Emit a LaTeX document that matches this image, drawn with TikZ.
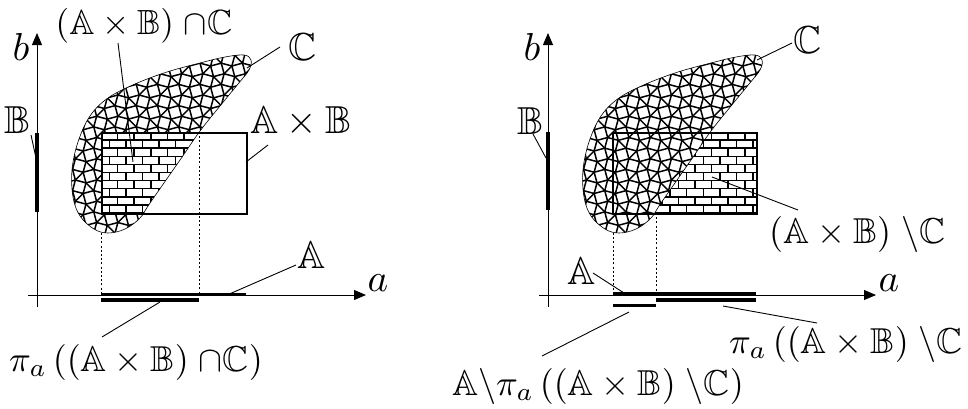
\documentclass[tikz,border=0pt]{standalone}
\usepackage{amssymb}
\usetikzlibrary{arrows.meta}
\newcommand\snubgrid{%
  \foreach \i in {0,...,10}{\foreach \j in {0,...,10}{%
    \begin{scope}[shift={(58+\i*21.25,38+\j*21.25)}, scale=1.1]
      \draw[pat] (3.536,6.124)--(-6.124,3.536)--(-3.536,-6.124)--(6.124,-3.536)--cycle;
      \draw[pat] (15.783,13.195)--(6.123,15.783)--(3.535,6.123)--(13.195,3.535)--cycle;
      \draw[pat] (6.124,-3.536)--(13.195,3.536);
      \draw[pat] (3.536,6.124)--(-3.536,13.195);
    \end{scope}}}}
\newcommand\brickfill[4]{%
  \foreach \k in {0,...,10}{%
    \draw[brickline] (#1,#2+\k*8.1) -- (#3,#2+\k*8.1);
    \pgfmathsetmacro\off{mod(\k,2)*8.3}
    \foreach \m in {-1,...,9}{%
      \draw[brickline] (#1+\off+\m*16.6,#2+\k*8.1) -- ++(0,8.1);
    }}}
\begin{document}
\begin{tikzpicture}[x=1pt,y=-1pt,
  lbl/.style={inner sep=0pt, scale=3.6},
  letter/.style={inner sep=0pt, scale=3.9},
  axlbl/.style={inner sep=0pt, scale=3.9},
  axis/.style={line width=0.9pt, -{Triangle[length=12pt,width=10pt]}},
  thickseg/.style={line width=3.8pt},
  leader/.style={line width=0.9pt},
  proj/.style={line width=0.8pt, dash pattern=on 2pt off 2.2pt},
  rectbox/.style={line width=1.8pt},
  blobline/.style={line width=0.6pt},
  pat/.style={line width=1.5pt, line join=round},
  brickline/.style={line width=1.5pt}]
\useasboundingbox (0,0) rectangle (968,408);
\def\blobpath{plot[smooth cycle, tension=0.6] coordinates {(251,60) (249,70) (238,84) (220,106) (200,131) (180,160) (150,203) (140,218) (125,229) (108,233) (94,229) (80,216) (73,197) (72,170) (78,142) (90,116) (108,98) (135,84) (167,72) (200,63) (225,57) (244,55)}}

% ================= LEFT DIAGRAM =================
\begin{scope}
  \clip \blobpath;
  \clip (-100,-100)--(-100,600)--(1100,600)--(1100,-100)--cycle
        (101,132)--(246,132)--(246,213)--(101,213)--cycle;
  \snubgrid
\end{scope}
\begin{scope}
  \clip \blobpath;
  \clip (101,132) rectangle (246,213);
  \brickfill{101}{132}{246}{213}
\end{scope}
\draw[blobline] \blobpath;
\node[draw, rectbox, minimum width=145pt, minimum height=81pt, inner sep=0pt, anchor=north west] (R1) at (101,132) {};

\coordinate (L-yb) at (37,307); \coordinate (L-yt) at (37,33);
\coordinate (L-xl) at (28,295); \coordinate (L-xr) at (366,295);
\draw[axis] (L-yb) -- (L-yt);
\draw[axis] (L-xl) -- (L-xr);
\node[axlbl] (L-b) at (21,47) {$b$};
\node[axlbl] (L-a) at (378,283) {$a$};

\coordinate (L-B1) at (37,133); \coordinate (L-B2) at (37,212);
\draw[thickseg] (L-B1) -- (L-B2);
\coordinate (L-A1) at (101,294.5); \coordinate (L-A2) at (246,294.5);
\draw[thickseg] (L-A1) -- (L-A2);
\coordinate (L-P1) at (101,300); \coordinate (L-P2) at (199,300);
\draw[thickseg] (L-P1) -- (L-P2);

\coordinate (L-d1a) at (101,233); \coordinate (L-d1b) at (101,294);
\coordinate (L-d2a) at (199,132); \coordinate (L-d2b) at (199,294);
\draw[proj] (L-d1a) -- (L-d1b);
\draw[proj] (L-d2a) -- (L-d2b);

\node[letter] (L-Blab) at (18,120) {$\mathbb{B}$};
\node[letter] (L-Clab) at (303,47) {$\mathbb{C}$};
\node[letter] (L-ABlab) at (301,122) {$\mathbb{A}\times\mathbb{B}$};
\node[letter] (L-Alab) at (312,255) {$\mathbb{A}$};
\node[lbl, scale=0.97] (L-Ilab) at (144,26) {$(\mathbb{A}\times\mathbb{B})\;{\cap}\mathbb{C}$};
\node[lbl] (L-Plab) at (136,362) {$\pi_a\,((\mathbb{A}\times\mathbb{B})\;{\cap}\mathbb{C})$};

\coordinate (L-lB1) at (31,135); \coordinate (L-lB2) at (36,158);
\draw[leader] (L-lB1) -- (L-lB2);
\coordinate (L-lC1) at (280,47); \coordinate (L-lC2) at (247,68);
\draw[leader] (L-lC1) -- (L-lC2);
\coordinate (L-lAB1) at (268,145); \coordinate (L-lAB2) at (246,162);
\draw[leader] (L-lAB1) -- (L-lAB2);
\coordinate (L-lI1) at (118,43); \coordinate (L-lI2) at (133,162);
\draw[leader] (L-lI1) -- (L-lI2);
\coordinate (L-lA1) at (296,265); \coordinate (L-lA2) at (227,295);
\draw[leader] (L-lA1) -- (L-lA2);
\coordinate (L-lP1) at (102,337); \coordinate (L-lP2) at (160,302);
\draw[leader] (L-lP1) -- (L-lP2);

% ================= RIGHT DIAGRAM =================
\begin{scope}[shift={(511,0)}]
  \begin{scope}
    \clip \blobpath;
    \snubgrid
  \end{scope}
  \begin{scope}
    \clip (101,132) rectangle (246,213);
    \clip (-700,-100)--(-700,600)--(600,600)--(600,-100)--cycle \blobpath;
    \brickfill{101}{132}{246}{213}
  \end{scope}
  \draw[blobline] \blobpath;
  \node[draw, rectbox, minimum width=144pt, minimum height=81pt, inner sep=0pt, anchor=north west] (R2) at (101,132) {};
\end{scope}

\coordinate (R-yb) at (548,307); \coordinate (R-yt) at (548,33);
\coordinate (R-xl) at (539,295); \coordinate (R-xr) at (876,295);
\draw[axis] (R-yb) -- (R-yt);
\draw[axis] (R-xl) -- (R-xr);
\node[axlbl] (R-b) at (532,47) {$b$};
\node[axlbl] (R-a) at (889,283) {$a$};

\coordinate (R-B1) at (548,132); \coordinate (R-B2) at (548,210);
\draw[thickseg] (R-B1) -- (R-B2);
\coordinate (R-A1) at (613,294); \coordinate (R-A2) at (756,294);
\draw[thickseg] (R-A1) -- (R-A2);
\coordinate (R-P1) at (656,300); \coordinate (R-P2) at (756,300);
\draw[thickseg] (R-P1) -- (R-P2);
\coordinate (R-Q1) at (613,305.5); \coordinate (R-Q2) at (656,305.5);
\draw[thickseg] (R-Q1) -- (R-Q2);

\coordinate (R-d1a) at (613,233); \coordinate (R-d1b) at (613,294);
\coordinate (R-d2a) at (656,213); \coordinate (R-d2b) at (656,294);
\draw[proj] (R-d1a) -- (R-d1b);
\draw[proj] (R-d2a) -- (R-d2b);

\node[letter] (R-Blab) at (530,121) {$\mathbb{B}$};
\node[letter] (R-Clab) at (808,40) {$\mathbb{C}$};
\node[lbl] (R-Dlab) at (857,234) {$(\mathbb{A}\times\mathbb{B})\;\backslash\mathbb{C}$};
\node[letter] (R-Alab) at (582,271) {$\mathbb{A}$};
\node[lbl] (R-Plab) at (846,344) {$\pi_a\,((\mathbb{A}\times\mathbb{B})\;\backslash\mathbb{C}$};
\node[lbl] (R-Qlab) at (598,386) {$\mathbb{A}\backslash\pi_a\,((\mathbb{A}\times\mathbb{B})\;\backslash\mathbb{C})$};

\coordinate (R-lB1) at (533,134); \coordinate (R-lB2) at (546,158);
\draw[leader] (R-lB1) -- (R-lB2);
\coordinate (R-lC1) at (792,43); \coordinate (R-lC2) at (757,60);
\draw[leader] (R-lC1) -- (R-lC2);
\coordinate (R-lD1) at (712,177); \coordinate (R-lD2) at (798,210);
\draw[leader] (R-lD1) -- (R-lD2);
\coordinate (R-lA1) at (593,273); \coordinate (R-lA2) at (624,293);
\draw[leader] (R-lA1) -- (R-lA2);
\coordinate (R-lP1) at (723,306); \coordinate (R-lP2) at (817,323);
\draw[leader] (R-lP1) -- (R-lP2);
\coordinate (R-lQ1) at (629,312); \coordinate (R-lQ2) at (542,356);
\draw[leader] (R-lQ1) -- (R-lQ2);
\end{tikzpicture}
\end{document}
